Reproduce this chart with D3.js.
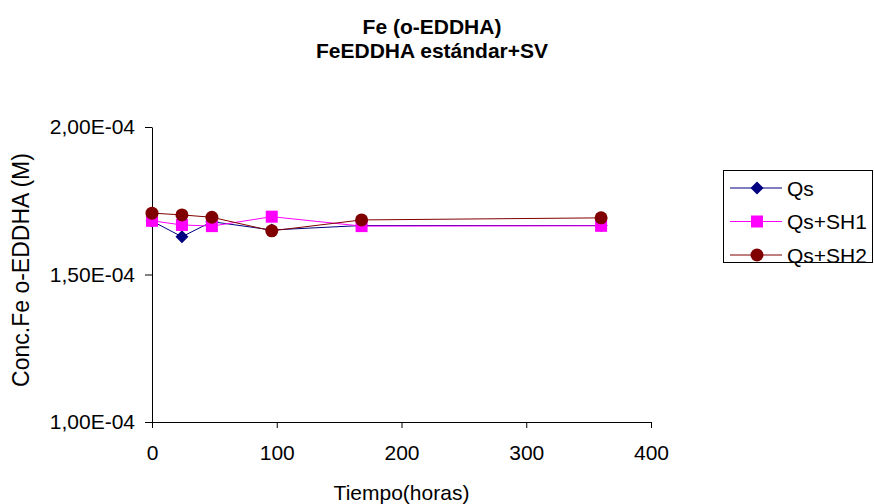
<!DOCTYPE html>
<html>
<head>
<meta charset="utf-8">
<script src="https://cdn.jsdelivr.net/npm/d3@7"></script>
<style>
  html, body { margin: 0; padding: 0; background: #fff; }
  svg { display: block; font-family: "Liberation Sans", Arial, sans-serif; }
</style>
</head>
<body>
<svg id="chart" width="874" height="504"></svg>
<script>
// ---- data ----
const titleLines = ["Fe (o-EDDHA)", "FeEDDHA estándar+SV"];
const xLabel = "Tiempo(horas)";
const yLabel = "Conc.Fe o-EDDHA (M)";
const hours = [0, 24, 48, 96, 168, 360];
const seriesNames = ["Qs", "Qs+SH1", "Qs+SH2"];
const qs    = [1.681e-4, 1.628e-4, 1.679e-4, 1.651e-4, 1.666e-4, 1.666e-4];
const qsSH1 = [1.682e-4, 1.668e-4, 1.664e-4, 1.696e-4, 1.664e-4, 1.665e-4];
const qsSH2 = [1.708e-4, 1.702e-4, 1.694e-4, 1.648e-4, 1.685e-4, 1.692e-4];
const xTicks = [0, 100, 200, 300, 400];
const yTicks = [1.0e-4, 1.5e-4, 2.0e-4];

// ---- styles ----
const colors = ["#000080", "#FF00FF", "#800000"];
const shapes = ["diamond", "square", "circle"];
const seriesValues = [qs, qsSH1, qsSH2];

const svg = d3.select("#chart");
const x = d3.scaleLinear().domain([0, 400]).range([152, 651]);
const y = d3.scaleLinear().domain([1e-4, 2e-4]).range([422, 127]);

function fmtE(v) {
  const [m, e] = v.toExponential(2).split("e");
  const ei = +e;
  return m.replace(".", ",") + "E" + (ei < 0 ? "-" : "+") + String(Math.abs(ei)).padStart(2, "0");
}

// title
svg.append("g").selectAll("text").data(titleLines).join("text")
  .attr("x", 432).attr("y", (d, i) => 34 + i * 24)
  .attr("text-anchor", "middle").attr("font-weight", "bold").attr("font-size", 21)
  .attr("fill", "#000").text(d => d);

// axes
const yAxis = d3.axisLeft(y).tickValues(yTicks).tickFormat(fmtE).tickSizeInner(7).tickSizeOuter(0).tickPadding(10);
const gy = svg.append("g").attr("transform", `translate(${x(0)},0)`).call(yAxis);
const xAxis = d3.axisBottom(x).tickValues(xTicks).tickFormat(d3.format("d")).tickSizeInner(6).tickSizeOuter(0).tickPadding(17);
const gx = svg.append("g").attr("transform", `translate(0,${y(1e-4)})`).call(xAxis);
[gx, gy].forEach(g => {
  g.selectAll("path.domain").attr("stroke", "#000").attr("stroke-width", 1);
  g.selectAll(".tick line").attr("stroke", "#000");
  g.selectAll(".tick text").attr("font-size", 21).attr("fill", "#000")
    .attr("font-family", "Liberation Sans, Arial, sans-serif");
});

// axis titles
svg.append("text").attr("x", x(200)).attr("y", 500).attr("text-anchor", "middle")
  .attr("font-size", 21).attr("fill", "#000").text(xLabel);
svg.append("text").attr("transform", `translate(29,270) rotate(-90)`)
  .attr("text-anchor", "middle").attr("font-size", 23).attr("fill", "#000").text(yLabel);

// marker drawing
function drawMarker(g, shape, color, cx, cy) {
  if (shape === "diamond") {
    g.append("path").attr("d", `M${cx},${cy - 6.5}L${cx + 6.5},${cy}L${cx},${cy + 6.5}L${cx - 6.5},${cy}Z`)
      .attr("fill", color);
  } else if (shape === "square") {
    g.append("rect").attr("x", cx - 6).attr("y", cy - 6).attr("width", 12).attr("height", 12)
      .attr("fill", color);
  } else {
    g.append("circle").attr("cx", cx).attr("cy", cy).attr("r", 6.5).attr("fill", color);
  }
}

// series
const line = d3.line().x(d => x(d[0])).y(d => y(d[1]));
seriesValues.forEach((vals, i) => {
  const pts = hours.map((h, j) => [h, vals[j]]);
  const g = svg.append("g");
  g.append("path").attr("d", line(pts)).attr("fill", "none")
    .attr("stroke", colors[i]).attr("stroke-width", 1);
  pts.forEach(p => drawMarker(g, shapes[i], colors[i], x(p[0]), y(p[1])));
});

// legend
const lg = svg.append("g");
lg.append("rect").attr("x", 723.5).attr("y", 170.5).attr("width", 149).attr("height", 92)
  .attr("fill", "#fff").attr("stroke", "#000").attr("stroke-width", 1);
seriesNames.forEach((name, i) => {
  const ly = 188 + i * 33.5;
  lg.append("line").attr("x1", 730).attr("x2", 782).attr("y1", ly).attr("y2", ly)
    .attr("stroke", colors[i]).attr("stroke-width", 1);
  drawMarker(lg, shapes[i], colors[i], 757, ly);
  lg.append("text").attr("x", 787).attr("y", ly + 7.5).attr("font-size", 21)
    .attr("fill", "#000").text(name);
});
</script>
</body>
</html>
